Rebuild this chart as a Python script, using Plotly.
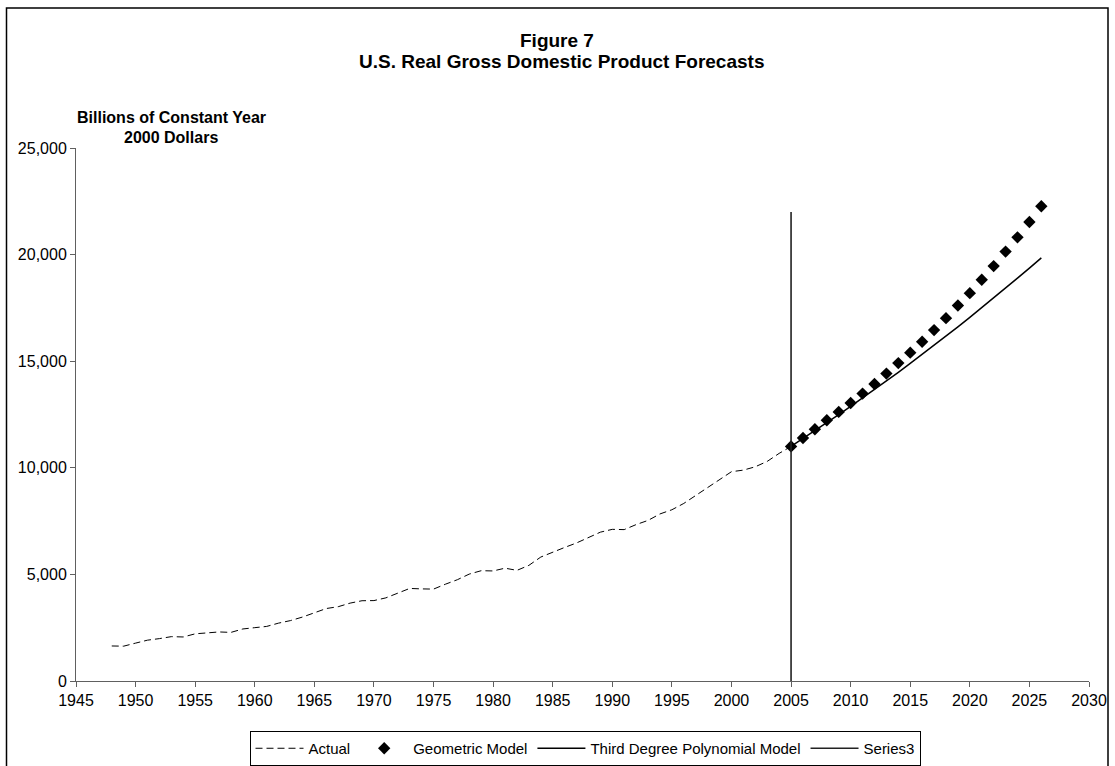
import plotly.graph_objects as go

# ---- data ----
actual_years = list(range(1948, 2006))
actual_values = [1643, 1634, 1777, 1915, 1988, 2080, 2065, 2213, 2256, 2301,
                 2280, 2441, 2502, 2560, 2715, 2834, 2999, 3191, 3399, 3485,
                 3653, 3765, 3772, 3899, 4105, 4342, 4320, 4311, 4541, 4751,
                 5015, 5173, 5162, 5292, 5189, 5424, 5814, 6054, 6264, 6475,
                 6743, 6981, 7113, 7101, 7337, 7533, 7836, 8032, 8329, 8704,
                 9067, 9470, 9817, 9891, 10049, 10301, 10676, 11004]

forecast_years = list(range(2005, 2027))
geometric_values = [11004, 11400, 11810, 12230, 12620, 13040, 13480, 13930,
                    14420, 14910, 15400, 15910, 16460, 17020, 17610, 18190,
                    18820, 19460, 20140, 20810, 21530, 22270]
polynomial_values = [11004, 11367, 11736, 12110, 12491, 12877, 13269, 13667,
                     14070, 14480, 14895, 15316, 15743, 16175, 16614, 17059,
                     17509, 17965, 18427, 18895, 19368, 19848]

series3_x = [2005, 2005]
series3_y = [0, 22000]

x_ticks = list(range(1945, 2031, 5))
y_ticks = [0, 5000, 10000, 15000, 20000, 25000]

FONT = "Liberation Sans, Arial, sans-serif"

# plot area in pixels (for placing paper-referenced text)
L, R, T, B = 76, 1089, 148, 681
PW, PH = R - L, B - T


def px(x):
    return (x - L) / PW


def py(y):
    return (B - y) / PH


fig = go.Figure()
fig.add_trace(go.Scatter(x=actual_years, y=actual_values, mode="lines", name="Actual",
                         line=dict(color="black", width=1, dash="7px,4px")))
fig.add_trace(go.Scatter(x=forecast_years, y=geometric_values, mode="markers", name="Geometric Model",
                         marker=dict(symbol="diamond", size=9.5, color="black")))
fig.add_trace(go.Scatter(x=forecast_years, y=polynomial_values, mode="lines",
                         name="Third Degree Polynomial Model",
                         line=dict(color="black", width=1.5)))
fig.add_trace(go.Scatter(x=series3_x, y=series3_y, mode="lines", name="Series3",
                         line=dict(color="#222222", width=1.6)))

fig.update_layout(
    width=1115, height=766,
    margin=dict(l=L, r=1115 - R, t=T, b=766 - B, autoexpand=False),
    paper_bgcolor="white", plot_bgcolor="white",
    font=dict(family=FONT, size=16, color="black"),
    showlegend=True,
    legend=dict(orientation="h", x=px(585), xanchor="center", y=py(731), yanchor="top",
                bordercolor="black", borderwidth=1, bgcolor="white",
                font=dict(size=15, family=FONT), itemwidth=48,
                tracegroupgap=0),
    xaxis=dict(range=[1945, 2030], tickvals=x_ticks, showgrid=False, zeroline=False,
               showline=True, linecolor="#606060", linewidth=1, automargin=False,
               ticks="outside", ticklen=5, tickcolor="#606060",
               tickfont=dict(size=16, family=FONT)),
    yaxis=dict(range=[0, 25000], tickvals=y_ticks, tickformat=",", showgrid=False,
               zeroline=False, showline=True, linecolor="#606060", linewidth=1,
               automargin=False,
               ticks="outside", ticklen=5, tickcolor="#606060",
               tickfont=dict(size=16, family=FONT)),
    annotations=[
        dict(text="<b>Figure 7</b>",
             xref="paper", yref="paper", x=px(557), y=py(40),
             xanchor="center", yanchor="middle", showarrow=False,
             font=dict(size=19, family=FONT)),
        dict(text="<b>U.S. Real Gross Domestic Product Forecasts</b>",
             xref="paper", yref="paper", x=px(561), y=py(61),
             xanchor="center", yanchor="middle", showarrow=False,
             font=dict(size=19, family=FONT)),
        dict(text="<b>Billions of Constant Year</b>",
             xref="paper", yref="paper", x=px(171), y=py(118),
             xanchor="center", yanchor="middle", showarrow=False,
             font=dict(size=16, family=FONT)),
        dict(text="<b>2000 Dollars</b>",
             xref="paper", yref="paper", x=px(171), y=py(138),
             xanchor="center", yanchor="middle", showarrow=False,
             font=dict(size=16, family=FONT)),
    ],
    shapes=[
        dict(type="rect", xref="paper", yref="paper",
             x0=px(6.5), x1=px(1108),
             y0=py(800), y1=py(8),
             line=dict(color="black", width=1.5), layer="below"),
    ],
)

fig.write_html("out.html", config={"displayModeBar": False},
               post_script="document.body.style.margin='0';")
